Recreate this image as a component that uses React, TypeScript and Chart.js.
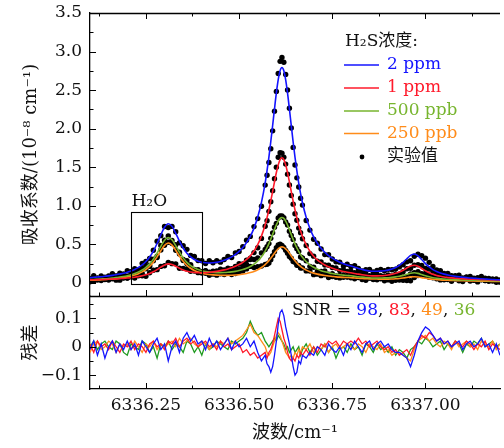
import React, { useEffect, useRef } from 'react';
import { Chart, registerables } from 'chart.js';

Chart.register(...registerables);

// ---------- data ----------
const WAVENUMBER = [
  6336.10, 6336.11, 6336.12, 6336.13, 6336.14, 6336.15, 6336.16, 6336.17, 6336.18, 6336.19,
  6336.20, 6336.21, 6336.22, 6336.23, 6336.24, 6336.25, 6336.26, 6336.27, 6336.28, 6336.29,
  6336.30, 6336.31, 6336.32, 6336.33, 6336.34, 6336.35, 6336.36, 6336.37, 6336.38, 6336.39,
  6336.40, 6336.41, 6336.42, 6336.43, 6336.44, 6336.45, 6336.46, 6336.47, 6336.48, 6336.49,
  6336.50, 6336.51, 6336.52, 6336.53, 6336.54, 6336.55, 6336.56,
  6336.57, 6336.575, 6336.58, 6336.585, 6336.59, 6336.595, 6336.60, 6336.605, 6336.61, 6336.615, 6336.62, 6336.625, 6336.63, 6336.635, 6336.64, 6336.645, 6336.65, 6336.655, 6336.66, 6336.665, 6336.67,
  6336.68, 6336.69, 6336.70, 6336.71, 6336.72, 6336.73, 6336.74, 6336.75, 6336.76, 6336.77, 6336.78, 6336.79,
  6336.80, 6336.81, 6336.82, 6336.83, 6336.84, 6336.85, 6336.86, 6336.87, 6336.88, 6336.89,
  6336.90, 6336.91, 6336.92, 6336.93, 6336.94, 6336.95, 6336.96, 6336.97, 6336.98, 6336.99,
  6337.00, 6337.01, 6337.02, 6337.03, 6337.04, 6337.05, 6337.06, 6337.07, 6337.08, 6337.09, 6337.10,
  6337.11, 6337.12, 6337.13, 6337.14, 6337.15, 6337.16, 6337.17, 6337.18, 6337.19, 6337.20,
];

const FIT_2PPM = [
  0.070, 0.074, 0.078, 0.082, 0.087, 0.092, 0.099, 0.107, 0.116, 0.126,
  0.140, 0.156, 0.176, 0.202, 0.235, 0.279, 0.337, 0.414, 0.512, 0.624,
  0.723, 0.768, 0.734, 0.644, 0.542, 0.453, 0.386, 0.338, 0.304, 0.282,
  0.269, 0.262, 0.260, 0.262, 0.269, 0.280, 0.295, 0.314, 0.339, 0.370,
  0.409, 0.460, 0.524, 0.604, 0.711, 0.855, 1.045,
  1.299, 1.457, 1.633, 1.831, 2.042, 2.258, 2.464, 2.635, 2.753, 2.793, 2.752, 2.634, 2.462, 2.256, 2.040, 1.828, 1.630, 1.453, 1.295, 1.159, 1.040,
  0.851, 0.706, 0.597, 0.515, 0.450, 0.398, 0.356, 0.322, 0.294, 0.270, 0.251, 0.234,
  0.221, 0.205, 0.189, 0.176, 0.164, 0.156, 0.152, 0.152, 0.155, 0.159,
  0.167, 0.181, 0.200, 0.229, 0.267, 0.314, 0.358, 0.376, 0.353, 0.304,
  0.252, 0.208, 0.174, 0.148, 0.129, 0.115, 0.104, 0.094, 0.086, 0.080, 0.075,
  0.070, 0.065, 0.062, 0.058, 0.055, 0.052, 0.049, 0.046, 0.043, 0.041,
];

const FIT_1PPM = [
  0.041, 0.042, 0.044, 0.045, 0.047, 0.049, 0.051, 0.054, 0.057, 0.060,
  0.064, 0.069, 0.075, 0.083, 0.093, 0.106, 0.123, 0.145, 0.173, 0.205,
  0.233, 0.248, 0.241, 0.218, 0.192, 0.170, 0.153, 0.143, 0.136, 0.134,
  0.133, 0.135, 0.139, 0.144, 0.151, 0.160, 0.170, 0.182, 0.197, 0.216,
  0.239, 0.268, 0.305, 0.352, 0.414, 0.497, 0.608,
  0.755, 0.847, 0.949, 1.064, 1.187, 1.312, 1.432, 1.531, 1.600, 1.623, 1.600, 1.531, 1.431, 1.311, 1.185, 1.062, 0.947, 0.844, 0.752, 0.673, 0.604,
  0.496, 0.411, 0.348, 0.301, 0.263, 0.233, 0.210, 0.190, 0.174, 0.161, 0.149, 0.140,
  0.133, 0.124, 0.115, 0.107, 0.100, 0.095, 0.092, 0.092, 0.094, 0.098,
  0.104, 0.113, 0.125, 0.143, 0.166, 0.194, 0.220, 0.230, 0.217, 0.188,
  0.158, 0.132, 0.113, 0.098, 0.087, 0.078, 0.072, 0.066, 0.062, 0.058, 0.055,
  0.053, 0.050, 0.048, 0.046, 0.044, 0.043, 0.041, 0.040, 0.038, 0.037,
];

const FIT_500PPB = [
  0.044, 0.046, 0.049, 0.052, 0.055, 0.059, 0.064, 0.070, 0.076, 0.084,
  0.094, 0.106, 0.122, 0.142, 0.168, 0.203, 0.248, 0.310, 0.388, 0.476,
  0.555, 0.590, 0.560, 0.485, 0.400, 0.326, 0.268, 0.226, 0.196, 0.174,
  0.159, 0.148, 0.141, 0.137, 0.135, 0.135, 0.136, 0.139, 0.144, 0.151,
  0.161, 0.174, 0.191, 0.214, 0.244, 0.285, 0.340,
  0.414, 0.460, 0.511, 0.569, 0.630, 0.693, 0.753, 0.803, 0.838, 0.849, 0.837, 0.802, 0.752, 0.691, 0.627, 0.565, 0.507, 0.455, 0.409, 0.368, 0.334,
  0.279, 0.236, 0.204, 0.180, 0.160, 0.145, 0.133, 0.122, 0.114, 0.107, 0.102, 0.097,
  0.093, 0.087, 0.081, 0.076, 0.072, 0.068, 0.065, 0.064, 0.065, 0.066,
  0.069, 0.073, 0.079, 0.087, 0.099, 0.113, 0.127, 0.132, 0.125, 0.109,
  0.093, 0.080, 0.069, 0.061, 0.056, 0.051, 0.048, 0.045, 0.042, 0.040, 0.039,
  0.037, 0.036, 0.035, 0.034, 0.033, 0.032, 0.031, 0.030, 0.029, 0.029,
];

const FIT_250PPB = [
  0.035, 0.037, 0.039, 0.042, 0.045, 0.048, 0.052, 0.057, 0.063, 0.070,
  0.079, 0.089, 0.103, 0.121, 0.144, 0.175, 0.215, 0.270, 0.339, 0.418,
  0.488, 0.518, 0.491, 0.424, 0.347, 0.281, 0.229, 0.191, 0.163, 0.143,
  0.128, 0.117, 0.110, 0.105, 0.102, 0.100, 0.099, 0.099, 0.101, 0.104,
  0.108, 0.115, 0.123, 0.135, 0.150, 0.172, 0.201,
  0.239, 0.263, 0.290, 0.321, 0.353, 0.386, 0.418, 0.444, 0.462, 0.468, 0.462, 0.443, 0.417, 0.385, 0.351, 0.319, 0.288, 0.260, 0.236, 0.215, 0.196,
  0.167, 0.145, 0.128, 0.115, 0.105, 0.097, 0.090, 0.085, 0.080, 0.076, 0.073, 0.071,
  0.069, 0.065, 0.062, 0.058, 0.056, 0.053, 0.052, 0.051, 0.050, 0.050,
  0.050, 0.052, 0.055, 0.059, 0.065, 0.072, 0.079, 0.082, 0.078, 0.070,
  0.061, 0.054, 0.048, 0.044, 0.040, 0.037, 0.035, 0.033, 0.032, 0.030, 0.029,
  0.028, 0.026, 0.025, 0.024, 0.023, 0.022, 0.022, 0.021, 0.020, 0.019,
];

const RES_2PPM = [
  -0.01, 0.02, -0.03, 0.01, -0.04, 0.00, 0.02, -0.02, 0.01, -0.01,
  0.02, -0.01, 0.01, -0.03, 0.02, 0.00, -0.02, 0.01, 0.03, -0.01,
  0.01, -0.05, 0.00, 0.02, -0.02, 0.03, 0.05, 0.02, 0.04, 0.01,
  0.02, -0.01, 0.03, 0.00, 0.02, -0.01, 0.01, 0.03, -0.01, 0.02,
  0.00, 0.01, 0.03, 0.00, 0.02, -0.02, -0.05,
  -0.03, -0.06, -0.07, -0.09, -0.07, -0.03, 0.02, 0.08, 0.12, 0.13, 0.11, 0.07, 0.04, 0.01, -0.03, -0.07, -0.10, -0.09, -0.05, -0.06, -0.03,
  -0.04, -0.02, -0.03, 0.00, -0.01, -0.03, 0.01, -0.01, -0.02, 0.00, -0.03, 0.01,
  -0.01, 0.02, 0.00, -0.02, 0.01, 0.02, -0.01, 0.01, 0.02, 0.00,
  0.01, -0.01, -0.02, -0.02, -0.03, -0.04, -0.07, -0.03, 0.02, 0.05,
  0.07, 0.06, 0.04, 0.02, 0.03, 0.01, 0.02, 0.00, 0.01, 0.02, -0.01,
  0.01, 0.02, 0.00, 0.01, 0.03, 0.00, 0.01, -0.02, 0.01, -0.03,
];

const RES_1PPM = [
  0.01, -0.02, 0.02, 0.00, 0.01, -0.01, 0.02, 0.00, -0.02, 0.01,
  0.00, 0.02, -0.01, 0.01, 0.00, -0.02, 0.01, 0.02, 0.00, 0.01,
  -0.01, 0.02, 0.01, 0.03, 0.00, 0.02, 0.03, 0.01, 0.02, 0.00,
  0.01, 0.02, 0.00, 0.01, -0.01, 0.02, 0.00, 0.01, -0.01, 0.00,
  0.01, -0.02, -0.01, -0.03, -0.02, -0.04, -0.03,
  -0.02, -0.04, -0.02, -0.01, 0.01, 0.04, 0.07, 0.10, 0.09, 0.06, 0.03, 0.01, -0.02, -0.04, -0.05, -0.04, -0.05, -0.03, -0.04, -0.02, -0.03,
  -0.01, -0.03, 0.00, -0.02, 0.01, 0.00, 0.02, 0.01, 0.02, 0.00, 0.02, 0.01,
  0.02, 0.01, 0.03, 0.01, 0.02, 0.00, 0.01, 0.02, 0.00, -0.01,
  0.00, -0.02, -0.01, -0.03, -0.02, -0.01, -0.03, 0.00, 0.02, 0.04,
  0.03, 0.05, 0.04, 0.02, 0.03, 0.01, 0.02, 0.00, 0.02, 0.01, 0.00,
  0.02, 0.01, -0.01, 0.01, 0.00, 0.02, -0.01, 0.01, 0.00, -0.01,
];

const RES_500PPB = [
  0.00, 0.02, -0.01, 0.01, 0.02, 0.00, -0.01, 0.02, 0.01, -0.02,
  -0.03, 0.01, 0.00, -0.01, 0.02, 0.01, -0.02, 0.00, -0.04, 0.01,
  0.00, 0.02, -0.01, 0.01, 0.00, -0.02, 0.02, 0.01, -0.02, 0.00,
  -0.03, 0.01, -0.01, 0.00, 0.02, 0.01, 0.00, -0.01, 0.02, 0.01,
  0.02, 0.03, 0.05, 0.09, 0.06, 0.04, 0.05,
  0.02, 0.01, 0.00, 0.01, 0.02, 0.03, 0.02, 0.04, 0.03, 0.02, 0.01, -0.01, 0.00, -0.02, -0.01, 0.00, -0.02, -0.01, 0.00, -0.03, -0.01,
  0.01, -0.02, 0.00, -0.03, -0.01, 0.01, -0.02, 0.00, -0.04, -0.01, 0.00, -0.02,
  0.01, -0.01, 0.00, -0.03, 0.01, 0.00, -0.02, 0.01, -0.01, 0.00,
  -0.02, 0.00, -0.03, -0.01, -0.02, -0.04, -0.01, 0.00, 0.02, 0.01,
  0.03, 0.02, 0.00, 0.01, 0.02, -0.01, 0.01, 0.00, 0.02, 0.01, -0.02,
  0.01, 0.00, 0.02, 0.01, 0.03, 0.00, 0.01, 0.02, 0.00, 0.01,
];

const RES_250PPB = [
  -0.02, 0.01, 0.02, -0.01, 0.00, 0.02, 0.01, -0.02, 0.01, 0.00,
  0.01, -0.01, 0.02, 0.00, -0.02, 0.01, 0.00, 0.02, -0.01, 0.01,
  0.00, 0.01, 0.02, 0.00, 0.03, 0.01, 0.02, 0.03, 0.01, 0.00,
  0.02, 0.01, -0.01, 0.01, 0.00, 0.02, 0.01, 0.03, 0.01, 0.02,
  0.03, 0.04, 0.06, 0.08, 0.05, 0.04, 0.02,
  0.00, -0.02, -0.03, -0.02, 0.00, 0.02, 0.04, 0.05, 0.04, 0.02, 0.00, -0.02, -0.03, -0.04, -0.03, -0.04, -0.02, -0.03, -0.01, -0.02, 0.00,
  -0.01, 0.01, -0.02, 0.00, -0.01, 0.01, -0.02, 0.00, 0.01, -0.01, 0.00, 0.01,
  0.00, -0.01, 0.01, 0.00, -0.02, 0.01, 0.00, -0.01, 0.01, -0.02,
  -0.01, -0.03, -0.02, -0.02, -0.03, -0.04, -0.05, -0.01, 0.02, 0.03,
  0.04, 0.02, 0.03, 0.01, 0.00, 0.02, 0.01, -0.01, 0.02, 0.00, 0.01,
  0.02, 0.00, 0.01, -0.01, 0.02, 0.01, 0.00, 0.02, -0.01, 0.01,
];

const SERIES_LABELS = ['2 ppm', '1 ppm', '500 ppb', '250 ppb'];
const SNR_VALUES = [98, 83, 49, 36];
const LEGEND_TITLE = 'H₂S浓度:';
const POINTS_LABEL = '实验值';
const BOX_LABEL = 'H₂O';
const H2O_BOX_X = [6336.21, 6336.40];
const H2O_BOX_Y = [-0.01, 0.92];

const X_MAJOR = [6336.25, 6336.5, 6336.75, 6337.0];
const X_MINOR = [6336.125, 6336.375, 6336.625, 6336.875, 6337.125];
const Y_TOP_MAJOR = [0, 0.5, 1, 1.5, 2, 2.5, 3, 3.5];
const Y_TOP_MINOR = [0.25, 0.75, 1.25, 1.75, 2.25, 2.75, 3.25];
const Y_BOT_MAJOR = [-0.1, 0, 0.1];
const Y_BOT_MINOR = [-0.05, 0.05, 0.15];

// ---------- styles ----------
const FONT = '"DejaVu Serif", "Noto Sans CJK SC", serif';
const TEXT = '#111';
const BLUE = '#1414ff';
const RED = '#ff1a2b';
const YGREEN = '#77b52e';
const ORANGE = '#ff8c1a';
const DGREEN = '#1f9a1f';
const FIT_COLORS = [BLUE, RED, YGREEN, ORANGE];
const RES_COLORS = [BLUE, RED, DGREEN, ORANGE];
const SNR_COLORS = [BLUE, RED, ORANGE, YGREEN];

const overlay = {
  id: 'overlay',
  afterDraw(chart: any) {
    const { ctx, chartArea, scales } = chart;
    const x = scales.x, y = scales.y, y2 = scales.y2;
    const L = chartArea.left, R = chartArea.right;
    const a = (v: number) => Math.round(v) + 0.5;
    ctx.save();
    ctx.strokeStyle = '#000';
    const seg = (x1: number, y1: number, x2: number, y2_: number) => {
      ctx.beginPath(); ctx.moveTo(x1, y1); ctx.lineTo(x2, y2_); ctx.stroke();
    };
    // frame lines
    ctx.lineWidth = 1.3;
    seg(L, a(chartArea.top), R, a(chartArea.top));
    seg(L, a(y.bottom), R, a(y.bottom));
    // x ticks (inward) on bottom, separator and top
    ctx.lineWidth = 1;
    const xt = (vals: number[], len: number) => {
      for (const v of vals) {
        const px = a(x.getPixelForValue(v));
        seg(px, y2.bottom, px, y2.bottom - len);
        seg(px, y.bottom, px, y.bottom - len);
        seg(px, chartArea.top, px, chartArea.top + len);
      }
    };
    xt(X_MAJOR, 6); xt(X_MINOR, 3.5);
    const yt = (sc: any, vals: number[], len: number) => {
      for (const v of vals) {
        const py = a(sc.getPixelForValue(v));
        seg(L, py, L + len, py);
      }
    };
    yt(y, Y_TOP_MAJOR, 6); yt(y, Y_TOP_MINOR, 3.5);
    yt(y2, Y_BOT_MAJOR, 6); yt(y2, Y_BOT_MINOR, 3.5);

    // H2O box
    const bx1 = a(x.getPixelForValue(H2O_BOX_X[0])), bx2 = a(x.getPixelForValue(H2O_BOX_X[1]));
    const by1 = a(y.getPixelForValue(H2O_BOX_Y[1])), by2 = a(y.getPixelForValue(H2O_BOX_Y[0]));
    ctx.lineWidth = 1.1;
    ctx.strokeRect(bx1, by1, bx2 - bx1, by2 - by1);
    ctx.font = `17px ${FONT}`;
    ctx.fillStyle = TEXT;
    ctx.textBaseline = 'alphabetic';
    ctx.textAlign = 'left';
    ctx.fillText(BOX_LABEL, bx1, by1 - 7);

    // legend
    ctx.textBaseline = 'middle';
    ctx.fillStyle = TEXT;
    ctx.fillText(LEGEND_TITLE, 345, 42);
    const rowY = [65, 88, 111, 133.5];
    SERIES_LABELS.forEach((lab, i) => {
      ctx.strokeStyle = FIT_COLORS[i];
      ctx.lineWidth = 1.6;
      seg(344, rowY[i], 379, rowY[i]);
      ctx.fillStyle = FIT_COLORS[i];
      ctx.fillText(lab, 387, rowY[i]);
    });
    ctx.fillStyle = '#000';
    ctx.beginPath(); ctx.arc(362, 157, 2.4, 0, Math.PI * 2); ctx.fill();
    ctx.fillStyle = TEXT;
    ctx.fillText(POINTS_LABEL, 387, 157);

    // SNR annotation
    let tx = 292;
    const ty = 311;
    const put = (s: string, c: string) => { ctx.fillStyle = c; ctx.fillText(s, tx, ty); tx += ctx.measureText(s).width; };
    put('SNR = ', TEXT);
    SNR_VALUES.forEach((v, i) => {
      put(String(v), SNR_COLORS[i]);
      if (i < SNR_VALUES.length - 1) put(', ', TEXT);
    });
    ctx.restore();
  },
};

export default function App() {
  const ref = useRef<HTMLCanvasElement>(null);
  useEffect(() => {
    document.body.style.margin = '0';
    const canvas = ref.current!;
    const fits = [FIT_2PPM, FIT_1PPM, FIT_500PPB, FIT_250PPB];
    const ress = [RES_2PPM, RES_1PPM, RES_500PPB, RES_250PPB];
    const pts = (ys: number[]) => WAVENUMBER.map((xv, i) => ({ x: xv, y: ys[i] }));
    const meas = (f: number[], r: number[]) => WAVENUMBER.map((xv, i) => ({ x: xv, y: f[i] + r[i] }));

    const fitSets = fits.map((f, i) => ({
      label: SERIES_LABELS[i], data: pts(f), yAxisID: 'y', borderColor: FIT_COLORS[i],
      borderWidth: 1.6, pointRadius: 0, cubicInterpolationMode: 'monotone', fill: false,
    }));
    const resOrder = [0, 1, 3, 2];
    const resSets = resOrder.map((i) => ({
      label: 'res ' + SERIES_LABELS[i], data: pts(ress[i]), yAxisID: 'y2',
      borderColor: RES_COLORS[i], borderWidth: 1.3, pointRadius: 0, fill: false,
    }));
    const dotSets = fits.map((f, i) => ({
      label: POINTS_LABEL, data: meas(f, ress[i]), yAxisID: 'y', showLine: false,
      pointRadius: 2.7, pointBackgroundColor: '#000', pointBorderWidth: 0, borderColor: '#000',
    }));

    const tickFont = { family: FONT, size: 17 };
    const titleFont = { family: FONT, size: 18 };
    const hiddenGrid = { display: false, drawTicks: true, tickLength: 8 };
    const chart = new Chart(canvas, {
      type: 'line',
      data: { datasets: [...fitSets, ...resSets, ...dotSets] as any },
      options: {
        responsive: false,
        animation: false,
        devicePixelRatio: 1,
        layout: { padding: { left: 21, top: 13, right: 0, bottom: 4 } },
        plugins: { legend: { display: false }, tooltip: { enabled: false } },
        scales: {
          x: {
            type: 'linear', position: 'bottom', min: 6336.1, max: 6337.2,
            afterBuildTicks: (s: any) => { s.ticks = X_MAJOR.map((v) => ({ value: v })); },
            afterFit: (s: any) => { s.height = 55; },
            grid: { display: false, drawTicks: true, tickLength: 6 },
            border: { display: true, color: '#000', width: 1.3 },
            ticks: { padding: 0, color: TEXT, font: tickFont, maxRotation: 0, autoSkip: false,
              callback: (v: any) => Number(v).toFixed(2) },
            title: { display: true, text: '波数/cm⁻¹', color: TEXT, font: titleFont, padding: 0 },
          },
          y: {
            type: 'linear', position: 'left', stack: 'panels', stackWeight: 283, weight: 1,
            min: -0.1685, max: 3.5,
            afterBuildTicks: (s: any) => { s.ticks = Y_TOP_MAJOR.map((v) => ({ value: v })); },
            afterFit: (s: any) => { s.width = 69; },
            grid: hiddenGrid,
            border: { display: true, color: '#000', width: 1.3 },
            ticks: { padding: 0, color: TEXT, font: tickFont, autoSkip: false,
              callback: (v: any) => (Number(v) === 0 ? '0' : Number(v).toFixed(1)) },
            title: { display: true, text: '吸收系数/(10⁻⁸ cm⁻¹)', color: TEXT, font: titleFont, padding: 0 },
          },
          y2: {
            type: 'linear', position: 'left', stack: 'panels', stackWeight: 93, weight: 0,
            min: -0.149, max: 0.179,
            afterBuildTicks: (s: any) => { s.ticks = Y_BOT_MAJOR.map((v) => ({ value: v })); },
            afterFit: (s: any) => { s.width = 69; },
            grid: hiddenGrid,
            border: { display: true, color: '#000', width: 1.3 },
            ticks: { padding: 0, color: TEXT, font: tickFont, autoSkip: false,
              callback: (v: any) => {
                const n = Number(v);
                if (Math.abs(n) < 1e-9) return '0';
                return (n < 0 ? '−' : '') + Math.abs(n).toFixed(1);
              } },
            title: { display: true, text: '残差', color: TEXT, font: titleFont, padding: 0 },
          },
        },
      } as any,
      plugins: [overlay],
    });
    return () => chart.destroy();
  }, []);
  return (
    <div style={{ width: 504, height: 448 }}>
      <canvas ref={ref} width={504} height={448} style={{ display: 'block' }} />
    </div>
  );
}
